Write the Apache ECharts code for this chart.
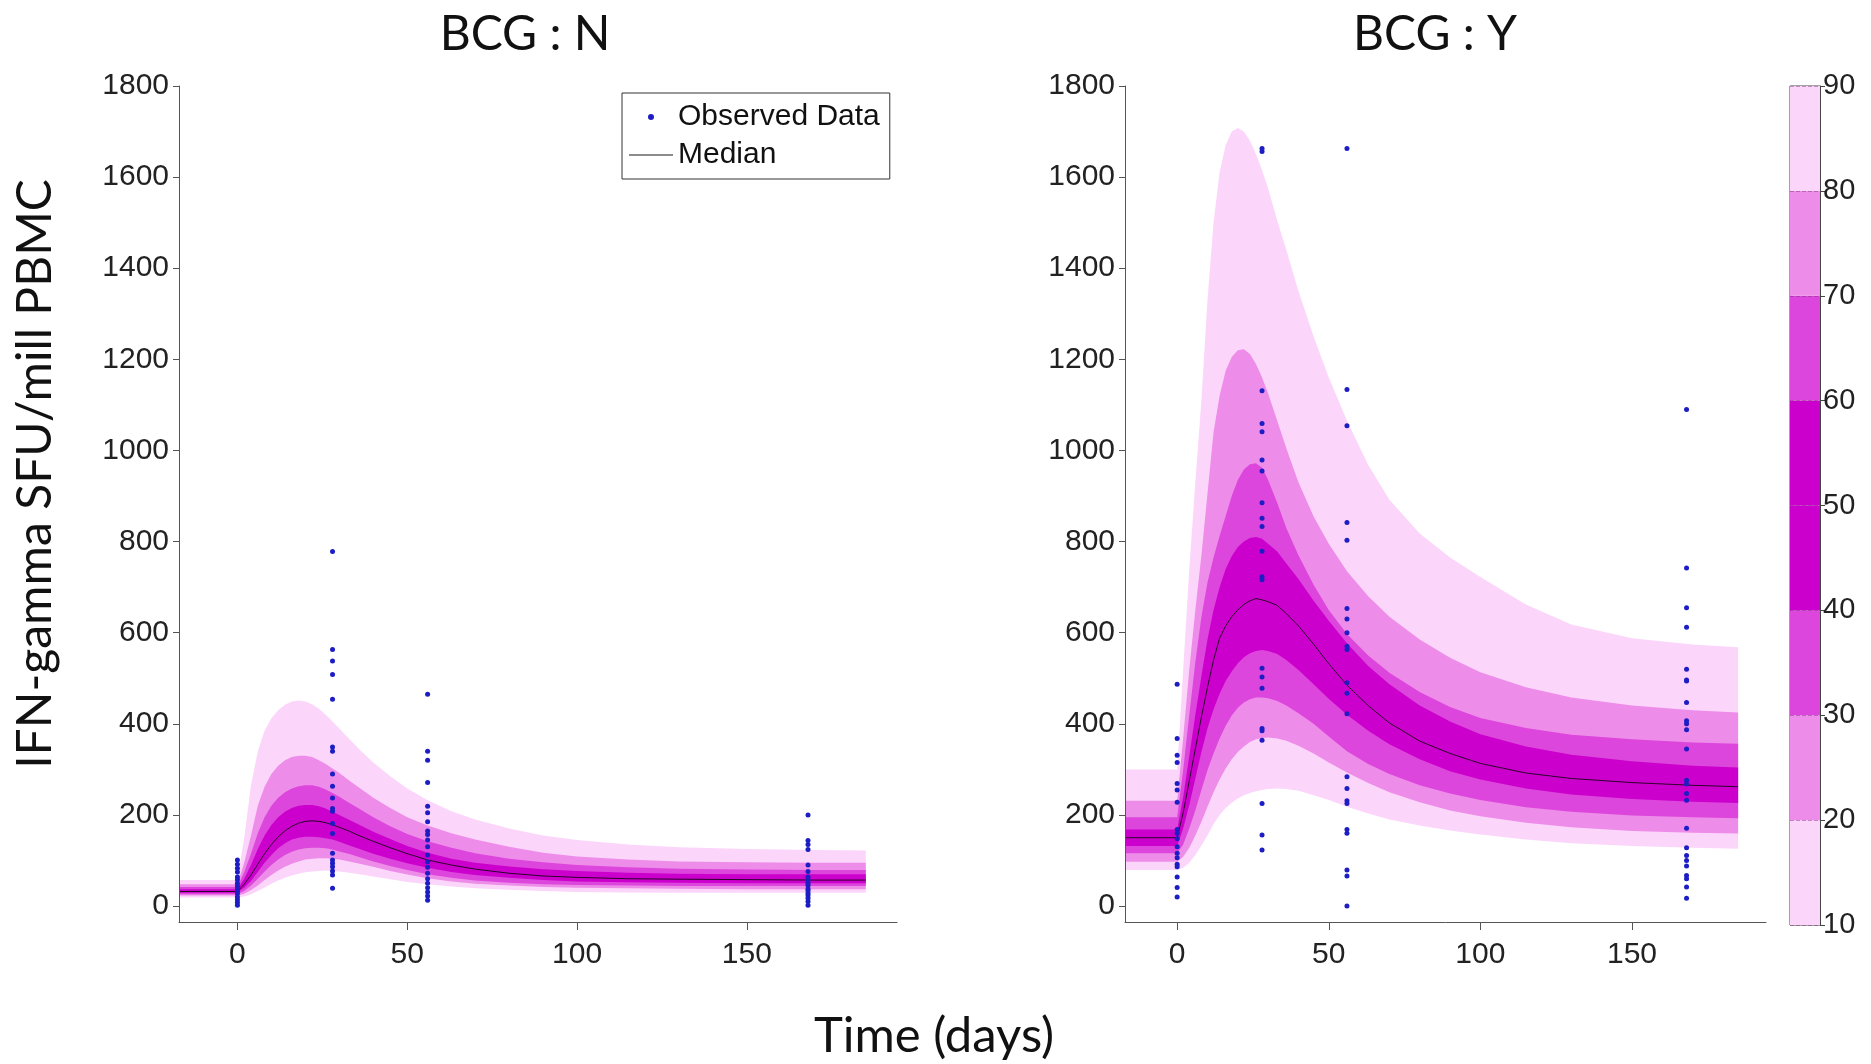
<!DOCTYPE html>
<html><head><meta charset="utf-8">
<script src="https://cdn.jsdelivr.net/npm/echarts@6/dist/echarts.min.js"></script>
<style>html,body{margin:0;padding:0;background:#fff}#c{width:1871px;height:1064px}</style>
</head><body><div id="c"></div>
<script>
// ---- time grid of the simulated percentile curves (days) ----
const timeGrid = [-17, 0, 2, 4, 6, 8, 10, 12, 14, 16, 18, 20, 22, 24, 26, 28, 30, 33, 36, 40, 45, 50, 56, 63, 70, 80, 90, 100, 115, 130, 150, 170, 185];

// ---- BCG : N percentiles ----
const N_p10 = [19, 19, 21, 26, 33, 41, 49, 56, 62, 67, 71, 74, 76, 77, 78, 77, 76, 73, 70, 65, 59, 53, 48, 43, 39, 36, 33, 31, 30, 29, 29, 29, 29];
const N_p20 = [23, 23, 27, 35, 45, 57, 68, 78, 86, 93, 98, 102, 104, 105, 105, 104, 102, 98, 93, 86, 77, 69, 61, 54, 49, 45, 42, 40, 39, 38, 37, 37, 37];
const N_p30 = [26, 26, 33, 45, 60, 76, 90, 102, 112, 119, 124, 127, 128, 128, 127, 124, 120, 114, 107, 98, 88, 79, 70, 62, 56, 51, 48, 46, 45, 44, 44, 44, 44];
const N_p40 = [29, 29, 40, 55, 75, 95, 112, 127, 138, 146, 150, 152, 152, 151, 149, 146, 141, 133, 125, 115, 104, 94, 84, 75, 68, 62, 57, 54, 52, 51, 50, 50, 50];
const N_p50 = [32, 32, 48, 68, 92, 115, 135, 152, 165, 175, 182, 186, 187, 186, 183, 178, 173, 164, 154, 142, 128, 115, 101, 90, 81, 72, 66, 63, 60, 59, 58, 57, 57];
const N_p60 = [37, 37, 60, 90, 125, 155, 178, 195, 207, 215, 220, 222, 222, 219, 214, 207, 200, 189, 178, 163, 147, 132, 117, 104, 95, 87, 81, 77, 73, 71, 70, 70, 70];
const N_p70 = [42, 42, 75, 115, 160, 195, 220, 238, 250, 258, 263, 265, 265, 262, 256, 248, 240, 226, 213, 195, 175, 158, 142, 128, 116, 104, 96, 90, 85, 82, 80, 79, 79];
const N_p80 = [48, 48, 95, 155, 220, 262, 290, 308, 320, 327, 330, 330, 327, 320, 312, 302, 292, 275, 259, 238, 215, 195, 177, 160, 146, 130, 117, 109, 102, 98, 96, 95, 95];
const N_p90 = [57, 57, 150, 265, 340, 385, 412, 430, 442, 449, 451, 449, 443, 433, 420, 405, 390, 366, 343, 315, 285, 258, 232, 208, 190, 170, 155, 145, 135, 129, 125, 123, 122];

// ---- BCG : Y percentiles ----
const Y_p10 = [79, 79, 84, 95, 112, 133, 155, 180, 200, 215, 227, 236, 243, 248, 252, 255, 257, 258, 257, 253, 243, 233, 218, 203, 190, 177, 166, 157, 146, 138, 132, 128, 126];
const Y_p20 = [97, 97, 108, 128, 155, 185, 218, 250, 278, 302, 322, 338, 350, 360, 366, 369, 370, 368, 363, 352, 335, 315, 293, 270, 250, 228, 210, 197, 183, 173, 165, 161, 159];
const Y_p30 = [116, 116, 135, 170, 210, 255, 298, 335, 368, 396, 418, 435, 447, 454, 458, 458, 456, 450, 440, 423, 400, 372, 340, 312, 290, 265, 247, 233, 217, 207, 199, 195, 193];
const Y_p40 = [132, 132, 170, 222, 280, 338, 390, 432, 466, 494, 515, 533, 546, 555, 560, 562, 560, 553, 540, 518, 487, 455, 420, 385, 355, 322, 296, 278, 258, 245, 235, 229, 226];
const Y_p50 = [150, 150, 205, 275, 345, 415, 480, 540, 588, 615, 635, 650, 662, 670, 675, 672, 668, 660, 642, 615, 575, 532, 485, 440, 402, 362, 335, 313, 292, 280, 271, 265, 262];
const Y_p60 = [168, 168, 240, 330, 420, 505, 585, 650, 700, 740, 768, 788, 800, 808, 810, 806, 795, 778, 752, 718, 670, 626, 577, 527, 487, 440, 405, 377, 350, 332, 318, 308, 304];
const Y_p70 = [195, 195, 300, 420, 535, 635, 710, 765, 812, 856, 900, 935, 958, 970, 972, 962, 935, 885, 830, 770, 705, 650, 597, 550, 512, 470, 437, 413, 391, 376, 366, 359, 356];
const Y_p80 = [231, 231, 370, 520, 650, 770, 905, 1040, 1120, 1175, 1205, 1220, 1222, 1212, 1190, 1160, 1125, 1065, 1005, 930, 855, 795, 735, 680, 635, 585, 545, 513, 480, 458, 440, 430, 425];
const Y_p90 = [300, 300, 520, 740, 930, 1110, 1330, 1500, 1610, 1670, 1700, 1708, 1700, 1680, 1650, 1615, 1575, 1505, 1440, 1350, 1250, 1160, 1065, 968, 892, 818, 765, 722, 662, 618, 588, 574, 568];

// ---- observed data: visit days and values ----
const obsDays = [0, 28, 56, 168];
const N_obs_d0 = [101, 92, 83, 75, 64, 58, 50, 44, 38, 32, 27, 20, 14, 8, 2];
const N_obs_d28 = [778, 563, 538, 508, 454, 349, 340, 290, 263, 237, 214, 208, 181, 159, 116, 101, 94, 86, 77, 68, 39];
const N_obs_d56 = [465, 340, 320, 271, 219, 205, 185, 165, 157, 145, 130, 112, 97, 85, 72, 60, 50, 40, 31, 22, 13];
const N_obs_d168 = [200, 144, 135, 124, 90, 76, 64, 57, 50, 45, 38, 34, 28, 23, 17, 10, 2];
const Y_obs_d0 = [487, 368, 331, 315, 269, 255, 228, 168, 160, 148, 130, 116, 106, 92, 86, 64, 41, 20];
const Y_obs_d28 = [1663, 1656, 1131, 1059, 1041, 979, 955, 885, 851, 833, 779, 723, 716, 522, 503, 478, 390, 385, 364, 225, 156, 123];
const Y_obs_d56 = [1663, 1134, 1054, 842, 803, 653, 630, 600, 570, 563, 490, 467, 422, 284, 258, 231, 225, 168, 160, 79, 66, 0];
const Y_obs_d168 = [1090, 742, 655, 612, 520, 496, 494, 447, 407, 400, 387, 345, 276, 268, 247, 232, 171, 128, 111, 100, 88, 67, 60, 42, 17];

// ---- ticks and colorbar ----
const xTicks = [0, 50, 100, 150];
const yTicks = [0, 200, 400, 600, 800, 1000, 1200, 1400, 1600, 1800];
const cbLevels = [10, 20, 30, 40, 50, 60, 70, 80, 90];
const cbColors = ['#fcd5fb', '#ee8ce9', '#dd46dc', '#cc00cc', '#cc00cc', '#dd46dc', '#ee8ce9', '#fcd5fb'];
const bandColors = ['#fcd5fb', '#ee8ce9', '#dd46dc', '#cc00cc']; // 10-90, 20-80, 30-70, 40-60

const panelTitles = ['BCG : N', 'BCG : Y'];

// ---------------------------------------------------------------
const FONT = "'Liberation Sans', Arial, sans-serif";
const TFONT = "Lato, 'Open Sans', sans-serif";
const plain = v => String(v);

function bandSeries(idx, lo, hi, color) {
  return {
    type: 'custom', xAxisIndex: idx, yAxisIndex: idx, silent: true, z: 2,
    data: timeGrid.map((t, i) => [t, lo[i], hi[i]]),
    encode: { x: 0, y: [1, 2] },
    renderItem: function (params, api) {
      if (params.dataIndexInside !== 0) return null;
      const n = params.dataInsideLength;
      const top = [], bot = [];
      for (let i = 0; i < n; i++) {
        top.push(api.coord([api.value(0, i), api.value(2, i)]));
        bot.push(api.coord([api.value(0, i), api.value(1, i)]));
      }
      return { type: 'polygon', shape: { points: top.concat(bot.reverse()) },
               style: { fill: color, stroke: null } };
    }
  };
}
function obsPairs(lists) {
  const out = [];
  lists.forEach((vals, k) => vals.forEach(v => out.push([obsDays[k], v])));
  return out;
}

const panels = [
  { lo: [N_p10, N_p20, N_p30, N_p40], hi: [N_p90, N_p80, N_p70, N_p60], med: N_p50,
    obs: [N_obs_d0, N_obs_d28, N_obs_d56, N_obs_d168] },
  { lo: [Y_p10, Y_p20, Y_p30, Y_p40], hi: [Y_p90, Y_p80, Y_p70, Y_p60], med: Y_p50,
    obs: [Y_obs_d0, Y_obs_d28, Y_obs_d56, Y_obs_d168] }
];

const grids = [
  { left: 179, top: 86, width: 718, height: 836, outerBoundsMode: 'none', containLabel: false },
  { left: 1125, top: 86, width: 641, height: 836, outerBoundsMode: 'none', containLabel: false },
  { left: 1790, top: 86, width: 30, height: 839, outerBoundsMode: 'none', containLabel: false,
    show: true, borderColor: '#444', borderWidth: 1, backgroundColor: 'transparent' }
];

const axisLineStyle = { color: '#555', width: 1 };
const xAxes = [0, 1].map(i => ({
  type: 'value', gridIndex: i, min: -17.2, max: 194.2,
  axisLine: { show: true, onZero: false, lineStyle: axisLineStyle },
  axisTick: { show: true, length: 8, customValues: xTicks, lineStyle: axisLineStyle },
  axisLabel: { customValues: xTicks, formatter: plain, fontSize: 30, fontFamily: FONT, color: '#222', margin: 18 },
  splitLine: { show: false }, z: 5
}));
xAxes.push({ type: 'category', gridIndex: 2, data: ['cb'], show: false });

const yAxes = [0, 1].map(i => ({
  type: 'value', gridIndex: i, min: -35, max: 1800,
  axisLine: { show: true, onZero: false, lineStyle: axisLineStyle },
  axisTick: { show: true, length: 6, customValues: yTicks, lineStyle: axisLineStyle },
  axisLabel: { customValues: yTicks, formatter: plain, fontSize: 30, fontFamily: FONT, color: '#222', margin: 10 },
  splitLine: { show: false }, z: 5
}));
yAxes.push({
  type: 'value', gridIndex: 2, position: 'right', min: cbLevels[0], max: cbLevels[cbLevels.length - 1], interval: 10,
  axisLine: { show: true, lineStyle: { color: '#444', width: 1 } },
  axisTick: { show: true, length: 5, lineStyle: { color: '#444' } },
  axisLabel: { formatter: plain, fontSize: 29, fontFamily: FONT, color: '#222', margin: 3 },
  splitLine: { show: true, lineStyle: { color: '#7a337a', width: 1, type: 'dashed', opacity: 0.45 } },
  z: 10
});

const series = [];
panels.forEach((p, i) => {
  for (let b = 0; b < 4; b++) series.push(bandSeries(i, p.lo[b], p.hi[b], bandColors[b]));
  series.push({
    name: 'Median', type: 'line', xAxisIndex: i, yAxisIndex: i, z: 4,
    data: timeGrid.map((t, k) => [t, p.med[k]]),
    symbol: 'none', showSymbol: false,
    lineStyle: { color: '#2a002a', width: 1 }, itemStyle: { color: '#666' }
  });
  series.push({
    name: 'Observed Data', type: 'scatter', xAxisIndex: i, yAxisIndex: i, z: 6,
    data: obsPairs(p.obs), symbol: 'circle', symbolSize: 5,
    itemStyle: { color: '#1d1dc4', opacity: 1 }
  });
});
// colorbar: transparent base plus one stacked segment per level step
series.push({ type: 'bar', xAxisIndex: 2, yAxisIndex: 2, stack: 'cb', barWidth: '100%', silent: true,
  data: [cbLevels[0]], itemStyle: { color: 'rgba(0,0,0,0)' } });
for (let k = 0; k < cbLevels.length - 1; k++) {
  series.push({ type: 'bar', xAxisIndex: 2, yAxisIndex: 2, stack: 'cb', barWidth: '100%', silent: true,
    data: [cbLevels[k + 1] - cbLevels[k]], itemStyle: { color: cbColors[k] } });
}

const option = {
  animation: false,
  backgroundColor: '#fff',
  title: [
    { text: panelTitles[0], left: 520, top: 6, textAlign: 'center',
      textStyle: { fontFamily: TFONT, fontSize: 48, fontWeight: 'normal', color: '#111' } },
    { text: panelTitles[1], left: 1430, top: 6, textAlign: 'center',
      textStyle: { fontFamily: TFONT, fontSize: 48, fontWeight: 'normal', color: '#111' } }
  ],
  legend: {
    orient: 'vertical', left: 622, top: 93,
    data: [
      { name: 'Observed Data' },
      { name: 'Median', icon: 'path://M0,0L44,0L44,1.6L0,1.6Z' }
    ],
    itemWidth: 44, itemHeight: 6, itemGap: 8, padding: [9, 10, 9, 7],
    borderColor: '#333', borderWidth: 1, selectedMode: false,
    textStyle: { fontSize: 30, fontFamily: FONT, color: '#111' }
  },
  grid: grids,
  xAxis: xAxes,
  yAxis: yAxes,
  series: series,
  graphic: [
    { type: 'text', x: 36, y: 474, rotation: Math.PI / 2,
      style: { text: 'IFN-gamma SFU/mill PBMC', fontFamily: TFONT, fontSize: 48, fill: '#111',
               align: 'center', verticalAlign: 'middle' } },
    { type: 'text', x: 934, y: 1036,
      style: { text: 'Time (days)', fontFamily: TFONT, fontSize: 49, fill: '#111',
               align: 'center', verticalAlign: 'middle' } }
  ]
};
const chart = echarts.init(document.getElementById('c'), null, { renderer: 'canvas' });
chart.setOption(option);
</script></body></html>
